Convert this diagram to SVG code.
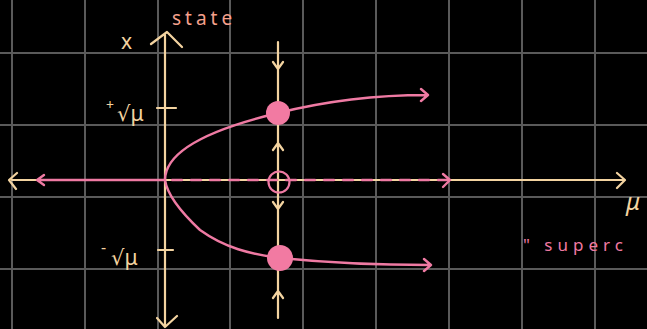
<svg xmlns="http://www.w3.org/2000/svg" width="647" height="329" viewBox="0 0 647 329">
<style>
.grid{stroke:#5a5a5a;stroke-width:2}
.tan{stroke:#f3d3a0;stroke-width:2.2;fill:none;stroke-linecap:round;stroke-linejoin:round}
.pink{stroke:#ef7aa3;stroke-width:2.4;fill:none;stroke-linecap:round;stroke-linejoin:round}
.lbl{font-family:"Noto Sans","DejaVu Sans",sans-serif;fill:#f3d3a0}
.ptxt{font-family:"Noto Sans","DejaVu Sans",sans-serif;fill:#f5a08c}
</style>
<rect width="647" height="329" fill="#000"/>
<g id="grid">
<path class="grid" d="M12 0V329M85 0V329M158 0V329M230 0V329M303 0V329M376 0V329M449 0V329M522 0V329M595 0V329M0 53H647M0 125H647M0 197H647M0 269H647"/>
</g>
<g id="axes">
<path class="tan" d="M12 180H624M617 173L625 180L617 188M17 173L9 180L16 189"/>
<path class="tan" d="M165 35V325M157 318L165 327L177 316M151 44L167 32L182 47"/>
<path class="tan" d="M157 108H176M158 250H173"/>
<text class="lbl" x="121" y="49" font-size="21">x</text>
<text class="lbl" x="626" y="210" font-size="24" font-style="italic">μ</text>
<text class="lbl" x="106" y="110" font-size="14">+</text>
<text class="lbl" x="117" y="121" font-size="21">√μ</text>
<text class="lbl" x="101" y="253" font-size="16">-</text>
<text class="lbl" x="111" y="265" font-size="21">√μ</text>
<text class="ptxt" x="172" y="25" font-size="19" letter-spacing="4">state</text>
</g>
<g id="connectors">
<path class="tan" d="M278 42V318M273 62L278 69L283 62M273 150L278 143L283 150M273 202L278 209L283 202M273 298L278 291L283 298"/>
<path class="pink" d="M38 180H165M44 175L37 180L44 185"/>
<path class="pink" d="M172 180H447" stroke-dasharray="10 9"/>
<path class="pink" d="M443 174L450 180L443 187"/>
<path class="pink" d="M165 180Q165 140 278 113C330 100 380 95 427 95M421 89L428 95L421 101"/>
<path class="pink" d="M165 180Q168 200 200 230C225 248 250 254 280 258C330 263 380 265 430 265M424 259L431 265L424 271"/>
</g>
<g id="node-upper-stable"><circle cx="278" cy="113" r="12" fill="#f27aa2"/></g>
<g id="node-lower-stable"><circle cx="280" cy="258" r="13" fill="#f27aa2"/></g>
<g id="node-unstable"><circle cx="279" cy="182" r="10.5" fill="none" stroke="#ef7aa3" stroke-width="2.2"/></g>
<g id="caption"><text x="523" y="251" font-size="17" letter-spacing="5" font-family="'Noto Sans','DejaVu Sans',sans-serif" fill="#ef7aa3">" superc</text></g>
</svg>
